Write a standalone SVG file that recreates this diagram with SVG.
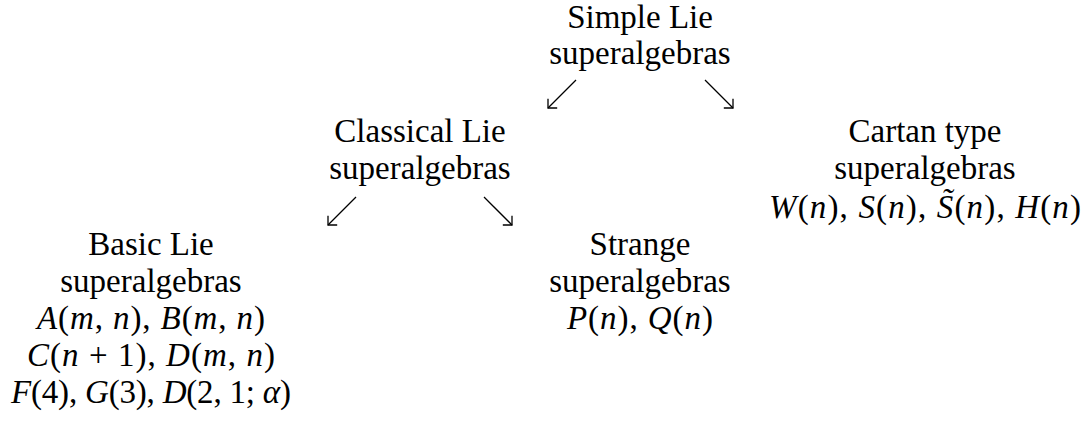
<svg xmlns="http://www.w3.org/2000/svg" width="1089" height="426" viewBox="0 0 1089 426">
<style>
text{font-family:"Liberation Serif","Times New Roman","DejaVu Serif",serif;font-size:33px;fill:#000;text-anchor:middle}
.i{font-style:italic}
.arr{stroke:#000;stroke-width:1.3;fill:none;marker-end:url(#ah)}
</style>
<defs>
<marker id="ah" markerUnits="userSpaceOnUse" markerWidth="20" markerHeight="20" viewBox="-10 -10 20 20" refX="0" refY="0" orient="auto">
<path d="M-6.5,-6.5 L0,0 L-6.5,6.5" stroke="#000" stroke-width="1.3" fill="none"/>
</marker>
</defs>
<rect width="1089" height="426" fill="#fff"/>
<g id="simple">
<text x="640" y="28">Simple Lie</text>
<text x="640" y="64">superalgebras</text>
</g>
<g id="classical">
<text x="420" y="142">Classical Lie</text>
<text x="420" y="179">superalgebras</text>
</g>
<g id="cartan">
<text x="925" y="142">Cartan type</text>
<text x="925" y="179">superalgebras</text>
<text x="925" y="218" textLength="312" lengthAdjust="spacing"><tspan class="i">W</tspan>(<tspan class="i">n</tspan>), <tspan class="i">S</tspan>(<tspan class="i">n</tspan>), <tspan class="i">S̃</tspan>(<tspan class="i">n</tspan>), <tspan class="i">H</tspan>(<tspan class="i">n</tspan>)</text>
</g>
<g id="basic">
<text x="151" y="255">Basic Lie</text>
<text x="151" y="292">superalgebras</text>
<text x="151" y="329" textLength="228" lengthAdjust="spacing"><tspan class="i">A</tspan>(<tspan class="i">m</tspan>, <tspan class="i">n</tspan>), <tspan class="i">B</tspan>(<tspan class="i">m</tspan>, <tspan class="i">n</tspan>)</text>
<text x="151" y="366" textLength="248" lengthAdjust="spacing"><tspan class="i">C</tspan>(<tspan class="i">n</tspan> + 1), <tspan class="i">D</tspan>(<tspan class="i">m</tspan>, <tspan class="i">n</tspan>)</text>
<text x="151" y="403" textLength="280" lengthAdjust="spacing"><tspan class="i">F</tspan>(4), <tspan class="i">G</tspan>(3), <tspan class="i">D</tspan>(2, 1; <tspan class="i">α</tspan>)</text>
</g>
<g id="strange">
<text x="640" y="255">Strange</text>
<text x="640" y="292">superalgebras</text>
<text x="640" y="329" textLength="146" lengthAdjust="spacing"><tspan class="i">P</tspan>(<tspan class="i">n</tspan>), <tspan class="i">Q</tspan>(<tspan class="i">n</tspan>)</text>
</g>
<g id="connectors">
<line class="arr" x1="576" y1="80" x2="548" y2="108"/>
<line class="arr" x1="705" y1="80" x2="733" y2="108"/>
<line class="arr" x1="356" y1="197" x2="328" y2="225"/>
<line class="arr" x1="484" y1="197" x2="512" y2="225"/>
</g>
</svg>
